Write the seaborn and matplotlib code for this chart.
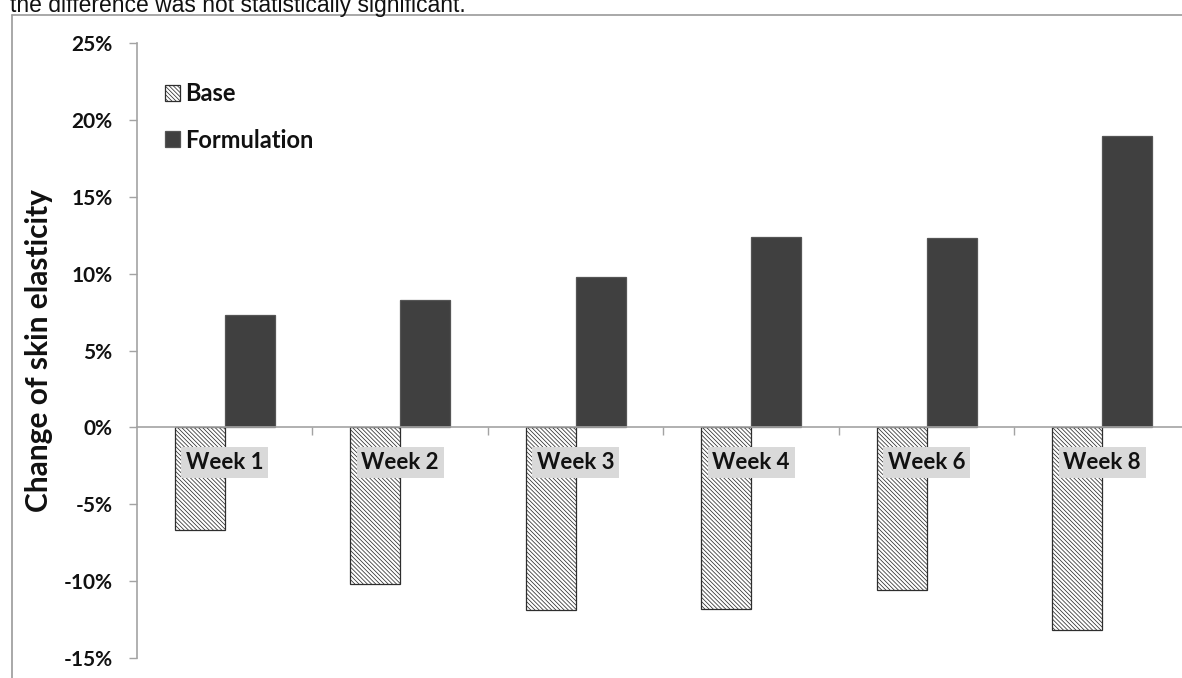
import numpy as np
import pandas as pd
import matplotlib
matplotlib.use("Agg")
import matplotlib.pyplot as plt
from matplotlib.lines import Line2D
import seaborn as sns

# Change of skin elasticity (%) relative to baseline
weeks = ["Week 1", "Week 2", "Week 3", "Week 4", "Week 6", "Week 8"]
base = [-6.7, -10.2, -11.9, -11.8, -10.6, -13.2]
formulation = [7.3, 8.3, 9.8, 12.4, 12.3, 19.0]
y_ticks = [-15, -10, -5, 0, 5, 10, 15, 20, 25]
y_tick_labels = ["-15%", "-10%", "-5%", "0%", "5%", "10%", "15%", "20%", "25%"]
groups = ["Base", "Formulation"]

df = pd.DataFrame({
    "week": weeks * 2,
    "group": [groups[0]] * len(weeks) + [groups[1]] * len(weeks),
    "change": base + formulation,
})

sns.set_theme(style="white")
plt.rcParams["font.family"] = ["Lato", "DejaVu Sans"]
plt.rcParams["hatch.linewidth"] = 0.55

W, H = 1182, 678
fig = plt.figure(figsize=(W / 100, H / 100), dpi=100)
fig.patch.set_facecolor("white")
ax = fig.add_axes([137 / W, 1 - 658 / H, 1053 / W, 614.7 / H])

grey = "#a3a3a3"
dark = "#404040"
sns.barplot(data=df, x="week", y="change", hue="group", order=weeks,
            hue_order=groups, palette={"Base": "white", "Formulation": dark},
            width=0.57, ax=ax, legend=False, saturation=1, linewidth=0.9,
            edgecolor="#333333")

for bar in ax.containers[0]:
    bar.set_hatch("\\" * 8)
    bar.set_edgecolor("#2e2e2e")
for bar in ax.containers[1]:
    bar.set_edgecolor("#555555")

# zero line acts as the category axis; reposition before styling ticks
for side in ["top", "right"]:
    ax.spines[side].set_visible(False)
ax.spines["bottom"].set_position(("data", 0))
ax.spines["bottom"].set_color(grey)
ax.spines["bottom"].set_linewidth(1.2)
ax.spines["left"].set_color(grey)
ax.spines["left"].set_linewidth(1.2)
ax.grid(False)
ax.set_axisbelow(False)

ax.set_xlim(-0.5, 5.5)
ax.set_ylim(-15, 25)
ax.set_xlabel("")
ax.set_ylabel("Change of skin elasticity", fontsize=21.5, fontweight="bold",
              color="#111111")
ax.yaxis.set_label_coords(-0.0798, 0.5)

ax.set_yticks(y_ticks)
ax.set_yticklabels(y_tick_labels, fontsize=15, fontweight="bold", color="#111111")
ax.tick_params(axis="y", left=True, length=5.5, width=1, color=grey,
               direction="out", pad=12)

# category labels sit just under the zero line on a light grey band
ax.set_xticks(range(len(weeks)))
ax.set_xticklabels(weeks, fontsize=16, fontweight="bold", color="#111111")
ax.tick_params(axis="x", which="major", length=0, pad=17.5)
for lab in ax.get_xticklabels():
    lab.set_bbox(dict(facecolor="#d9d9d9", edgecolor="none", pad=3.5))
ax.set_xticks(np.arange(0.5, 5.5, 1), minor=True)
ax.tick_params(axis="x", which="minor", bottom=True, length=6, width=1,
               color=grey, direction="out")

leg = ax.legend([ax.containers[0], ax.containers[1]], groups,
                loc="upper left", bbox_to_anchor=(0.0266, 0.937),
                frameon=False, prop={"weight": "bold", "size": 17},
                handlelength=0.65, handleheight=0.65, handletextpad=0.22,
                labelspacing=1.0, borderpad=0, borderaxespad=0)
for t in leg.get_texts():
    t.set_color("#111111")

# caption line above the panel and the panel's frame
fig.text(10 / W, 1 - 12 / H, "the difference was not statistically significant.",
         family="Liberation Sans", fontsize=16.5, va="baseline", ha="left",
         color="#111111")
fig.add_artist(Line2D([12 / W, 1], [1 - 15 / H, 1 - 15 / H],
                      transform=fig.transFigure, color="#9a9a9a", lw=1.2))
fig.add_artist(Line2D([12 / W, 12 / W], [0, 1 - 15 / H],
                      transform=fig.transFigure, color="#9a9a9a", lw=1.2))

fig.savefig("out.png", dpi=100, facecolor="white")
